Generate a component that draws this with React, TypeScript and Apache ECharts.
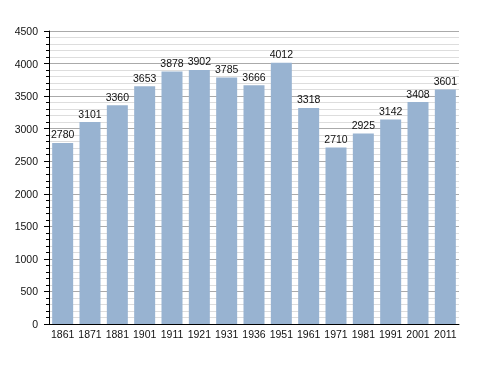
import React, { useEffect, useRef } from "react";
import * as echarts from "echarts";

const years = ["1861", "1871", "1881", "1901", "1911", "1921", "1931", "1936", "1951", "1961", "1971", "1981", "1991", "2001", "2011"];
const population = [2780, 3101, 3360, 3653, 3878, 3902, 3785, 3666, 4012, 3318, 2710, 2925, 3142, 3408, 3601];

const font = "Liberation Sans, Arial, sans-serif";

export default function App() {
  const ref = useRef<HTMLDivElement>(null);
  useEffect(() => {
    const chart = echarts.init(ref.current!, null, { renderer: "svg" });
    chart.setOption({
      animation: false,
      grid: { left: 49, top: 31, right: 29, bottom: 49, containLabel: false },
      xAxis: {
        type: "category",
        data: years,
        axisLine: { lineStyle: { color: "#000", width: 1 } },
        axisTick: { show: false },
        axisLabel: { color: "#111", fontSize: 10.5, fontFamily: font, margin: 4, interval: 0 },
      },
      yAxis: {
        type: "value",
        min: 0,
        max: 4500,
        interval: 500,
        axisLine: { show: true, lineStyle: { color: "#000", width: 1 } },
        axisTick: { show: true, length: 5, lineStyle: { color: "#000" } },
        minorTick: { show: true, splitNumber: 5, length: 3, lineStyle: { color: "#000" } },
        splitLine: { show: true, lineStyle: { color: "#aaaaaa", width: 1 } },
        minorSplitLine: { show: true, lineStyle: { color: "#dddddd", width: 1 } },
        axisLabel: { color: "#111", fontSize: 10.5, fontFamily: font, margin: 11, formatter: (v: number) => String(v) },
      },
      series: [
        {
          type: "bar",
          data: population,
          barWidth: 21,
          itemStyle: { color: "#98b3d1" },
          label: {
            show: true,
            position: "top",
            distance: 3,
            color: "#111",
            fontSize: 10.5,
            fontFamily: font,
          },
        },
      ],
    });
    return () => chart.dispose();
  }, []);
  return <div ref={ref} style={{ position: "fixed", left: 0, top: 0, width: 488, height: 373 }} />;
}
